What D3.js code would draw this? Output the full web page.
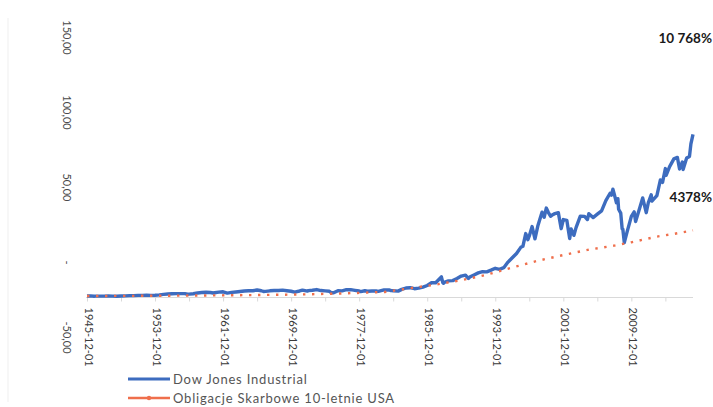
<!DOCTYPE html>
<html>
<head>
<meta charset="utf-8">
<script src="https://cdn.jsdelivr.net/npm/d3@7"></script>
<style>
  html, body { margin: 0; padding: 0; background: #fff; }
  svg { display: block; font-family: Lato, "Open Sans", sans-serif; }
</style>
</head>
<body>
<svg id="chart" width="713" height="407"></svg>
<script>
// Dow Jones Industrial, value relative to December 1945 (1.00 = start)
const dowDates = ["1945-12","1946-05","1946-10","1946-12","1947-06","1947-12","1948-06","1948-12","1949-06","1949-12",
  "1950-06","1950-12","1951-06","1951-12","1952-06","1952-12","1953-06","1953-12","1954-06","1954-12",
  "1955-06","1955-12","1956-06","1956-12","1957-06","1957-10","1957-12","1958-06","1958-12","1959-06","1959-12",
  "1960-06","1960-10","1960-12","1961-06","1961-12","1962-06","1962-12","1963-06","1963-12","1964-06","1964-12",
  "1965-06","1965-12","1966-06","1966-09","1966-12","1967-06","1967-12","1968-06","1968-12","1969-06","1969-12",
  "1970-05","1970-12","1971-04","1971-11","1971-12","1972-06","1972-12","1973-06","1973-12","1974-06","1974-09","1974-12",
  "1975-06","1975-12","1976-06","1976-12","1977-06","1977-12","1978-02","1978-08","1978-12","1979-06","1979-12",
  "1980-03","1980-11","1980-12","1981-06","1981-09","1981-12","1982-07","1982-12","1983-06","1983-12","1984-06","1984-12",
  "1985-06","1985-12","1986-06","1986-12","1987-08","1987-10","1987-11","1987-12","1988-06","1988-12","1989-06","1989-12",
  "1990-06","1990-10","1990-12","1991-06","1991-12","1992-06","1992-12","1993-06","1993-12","1994-06","1994-12",
  "1995-06","1995-12","1996-06","1996-12","1997-03","1997-07","1997-10","1997-12","1998-04","1998-08","1998-12",
  "1999-06","1999-09","1999-12","2000-03","2000-06","2000-09","2000-12","2001-05","2001-09","2001-12",
  "2002-05","2002-07","2002-09","2002-11","2003-03","2003-06","2003-12","2004-06","2004-10","2004-12",
  "2005-06","2005-12","2006-06","2006-12","2007-06","2007-08","2007-10","2007-12","2008-03","2008-05","2008-06",
  "2008-09","2008-11","2008-12","2009-02","2009-06","2009-12","2010-04","2010-06","2010-12","2011-04","2011-09","2011-12",
  "2012-04","2012-05","2012-12","2013-05","2013-08","2013-12","2014-01","2014-06","2014-12","2015-05","2015-08","2015-12",
  "2016-01","2016-06","2016-10","2016-12","2017-03"];
const dowValues = [1.00,1.10,0.86,0.92,0.92,0.94,0.98,0.92,0.87,1.04,
  1.08,1.22,1.26,1.40,1.42,1.51,1.39,1.46,1.73,2.10,
  2.34,2.53,2.55,2.59,2.61,2.18,2.26,2.48,3.03,3.34,3.52,
  3.32,3.02,3.19,3.55,3.79,2.91,3.38,3.67,3.96,4.31,4.53,
  4.50,5.02,4.51,4.00,4.07,4.46,4.69,4.66,4.89,4.53,4.15,
  3.63,4.35,4.93,4.23,4.61,4.82,5.29,4.62,4.41,4.16,3.13,3.19,
  4.56,4.42,5.20,5.21,4.75,4.31,3.91,4.52,4.17,4.36,4.35,
  4.11,5.08,5.00,5.06,4.55,4.54,4.25,5.43,6.33,6.53,5.87,6.28,
  6.93,8.02,9.81,9.83,13.80,10.00,9.51,10.05,11.10,11.24,12.65,14.27,
  14.94,12.66,13.65,15.07,16.43,17.21,17.11,18.23,19.46,18.79,19.88,
  23.62,26.53,29.32,33.43,34.13,42.63,38.58,41.00,47.30,39.08,47.60,
  56.87,53.50,59.60,56.62,54.16,55.20,55.92,56.57,45.87,51.95,
  51.45,45.29,39.36,45.70,41.43,46.58,54.19,54.10,51.98,55.90,
  53.27,55.56,57.80,64.61,69.51,68.20,72.21,68.77,63.10,65.90,58.84,
  56.25,45.77,45.50,36.61,43.79,54.06,57.07,50.67,60.02,66.41,56.57,63.34,
  68.50,64.25,67.93,78.36,76.78,85.94,81.39,87.23,92.40,93.37,85.68,90.33,
  85.36,92.95,94.05,102.45,108.68];

// US 10-year Treasury bonds, value relative to December 1945
const bondDates = ["1945-12","1950-12","1955-12","1960-12","1965-12","1970-12","1975-12","1980-12","1983-12","1986-12",
  "1989-12","1992-12","1995-12","1998-12","2001-12","2004-12","2007-12","2009-12","2012-12","2014-12","2017-03"];
const bondValues = [1.00,1.10,1.22,1.40,1.65,2.00,2.70,3.70,6.20,8.60,
  11.50,15.20,20.00,24.50,28.30,31.90,34.60,36.80,40.60,42.40,44.78];

const seriesNames = ["Dow Jones Industrial", "Obligacje Skarbowe 10-letnie USA"];
const seriesColors = ["#3d6cbf", "#ef6f4c"];

const yTicks = [-50, 0, 50, 100, 150];
const yTickLabels = ["-50,00", "-", "50,00", "100,00", "150,00"];

const xTickStart = "1945-12-01";
const xTickLabels = ["1945-12-01","1953-12-01","1961-12-01","1969-12-01","1977-12-01","1985-12-01","1993-12-01","2001-12-01","2009-12-01"];

const endLabels = ["10 768%", "4378%"];

const parseMonth = d3.timeParse("%Y-%m");
const parseDay = d3.timeParse("%Y-%m-%d");

const svg = d3.select("#chart");

const x = d3.scaleTime()
  .domain([parseMonth("1945-12"), parseMonth("2017-03")])
  .range([87, 693]);
const y = d3.scaleLinear()
  .domain([-50, 150])
  .range([372.5, 72.5]);

// faint chart border on the left
svg.append("line")
  .attr("x1", 8).attr("x2", 8).attr("y1", 18).attr("y2", 402)
  .attr("stroke", "#efefef").attr("stroke-width", 1);

// value axis labels (rotated, no line)
svg.append("g").selectAll("text")
  .data(yTicks)
  .join("text")
  .attr("transform", (d) => `translate(67,${y(d) - 35}) rotate(90)`)
  .attr("text-anchor", "middle")
  .attr("dy", "0.35em")
  .attr("font-size", 11)
  .attr("fill", "#4a4a4a")
  .text((d, i) => yTickLabels[i]);

// category (date) axis at zero
const t0 = parseDay(xTickStart);
const tickDates = d3.range(0, 18).map((k) => d3.timeYear.offset(t0, 4 * k));
const xAxis = d3.axisBottom(x)
  .tickValues(tickDates)
  .tickSize(4)
  .tickFormat("");
const gx = svg.append("g")
  .attr("transform", `translate(0,${y(0)})`)
  .call(xAxis);
gx.select(".domain").attr("stroke", "#d9d9d9").attr("d", `M86,0H693`);
gx.selectAll(".tick line").attr("stroke", "#d9d9d9");

svg.append("g").selectAll("text")
  .data(xTickLabels)
  .join("text")
  .attr("transform", (d) => `translate(${x(parseDay(d)) + 2},${y(0) + 10}) rotate(90)`)
  .attr("text-anchor", "start")
  .attr("dy", "0.35em")
  .attr("font-size", 11)
  .attr("fill", "#3a3a3a")
  .text((d) => d);

// series lines
const line = d3.line()
  .x((d) => x(d[0]))
  .y((d) => y(d[1]));

const dowData = dowDates.map((d, i) => [parseMonth(d), dowValues[i]]);
const bondData = bondDates.map((d, i) => [parseMonth(d), bondValues[i]]);

svg.append("path")
  .datum(dowData)
  .attr("d", line)
  .attr("fill", "none")
  .attr("stroke", seriesColors[0])
  .attr("stroke-width", 3.4)
  .attr("stroke-linejoin", "round");

svg.append("path")
  .datum(bondData)
  .attr("d", line)
  .attr("fill", "none")
  .attr("stroke", seriesColors[1])
  .attr("stroke-width", 2.4)
  .attr("stroke-dasharray", "2.4 6.6");

// end-of-period returns
const endPos = [[712, 43], [712, 202]];
svg.append("g").selectAll("text")
  .data(endLabels)
  .join("text")
  .attr("x", (d, i) => endPos[i][0])
  .attr("y", (d, i) => endPos[i][1])
  .attr("text-anchor", "end")
  .attr("font-size", 13.5)
  .attr("font-weight", "bold")
  .attr("fill", "#1a1a1a")
  .text((d) => d);

// legend
const legend = svg.append("g");
seriesNames.forEach((name, i) => {
  const ly = 379 + i * 19;
  legend.append("line")
    .attr("x1", 128).attr("x2", 170).attr("y1", ly).attr("y2", ly)
    .attr("stroke", seriesColors[i]).attr("stroke-width", i === 0 ? 3.2 : 2.4);
  if (i === 1) {
    legend.append("circle")
      .attr("cx", 149).attr("cy", ly).attr("r", 2.2)
      .attr("fill", seriesColors[i]);
  }
  legend.append("text")
    .attr("x", 173).attr("y", ly + 4.5)
    .attr("font-size", 13)
    .attr("letter-spacing", 0.8)
    .attr("fill", "#555")
    .text(name);
});
</script>
</body>
</html>
